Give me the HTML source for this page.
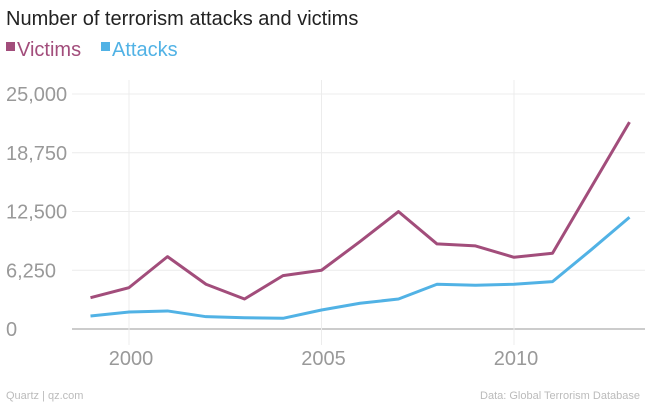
<!DOCTYPE html>
<html><head><meta charset="utf-8"><style>
body{margin:0;background:#fff;font-family:"Liberation Sans",sans-serif;}
svg{display:block}
</style></head><body>
<svg id="chart" width="645" height="403">
<text x="6" y="25" font-size="20" fill="#222">Number of terrorism attacks and victims</text>
<g>
<rect x="6" y="42" width="9" height="9" fill="#a24d7b"/>
<text x="17" y="56" font-size="20" fill="#a24d7b">Victims</text>
<rect x="101" y="42" width="9" height="9" fill="#51b2e5"/>
<text x="112" y="56" font-size="20" fill="#51b2e5">Attacks</text>
</g>
<g id="grid"></g><g id="axes"></g><g id="series"></g>
<text x="6" y="399" font-size="11" fill="#bbb">Quartz | qz.com</text>
<text x="640" y="399" font-size="11" fill="#bbb" text-anchor="end">Data: Global Terrorism Database</text>
</svg>
<script>
const years=[1999,2000,2001,2002,2003,2004,2005,2006,2007,2008,2009,2010,2011,2012,2013];
const victims=[3330,4400,7700,4760,3190,5680,6250,9300,12490,9050,8840,7630,8060,15040,22010];
const attacks=[1380,1810,1920,1310,1200,1140,2020,2740,3190,4760,4650,4760,5040,8410,11890];
const yTicks=[0,6250,12500,18750,25000];
const yTickLabels=["0","6,250","12,500","18,750","25,000"];
const xTicks=[2000,2005,2010];
const NS="http://www.w3.org/2000/svg";
const x=v=>129+(v-2000)*38.5;
const y=v=>329-v*(235/25000);
function mk(tag,attrs,parent){const e=document.createElementNS(NS,tag);for(const k in attrs)e.setAttribute(k,attrs[k]);parent.appendChild(e);return e;}
const grid=document.getElementById('grid'),axes=document.getElementById('axes'),series=document.getElementById('series');
yTicks.forEach((t,i)=>{
 const l=mk('line',{x1:72,x2:645,y1:y(t),y2:y(t),stroke:t===0?'#999':'#ececec','stroke-width':1},grid);
 
 
 const tx=mk('text',{x:6,y:y(t)+7,'font-size':20,fill:'#999'},axes);
 tx.textContent=yTickLabels[i];
 
 
});
xTicks.forEach(t=>{
 const l=mk('line',{x1:x(t),x2:x(t),y1:80,y2:345,stroke:'#ececec','stroke-width':1},grid);
 
 
 const tx=mk('text',{x:x(t)+2,y:365,'font-size':20,fill:'#999','text-anchor':'middle'},axes);
 tx.textContent=t;
 
 
});
function line(vals,color,name){
 const p=mk('polyline',{points:vals.map((v,i)=>x(years[i])+','+y(v)).join(' '),fill:'none',stroke:color,'stroke-width':3,'stroke-linejoin':'round'},series);
 
 
}
line(attacks,'#51b2e5','attacks-line');
line(victims,'#a24d7b','victims-line');
</script>
</body></html>
